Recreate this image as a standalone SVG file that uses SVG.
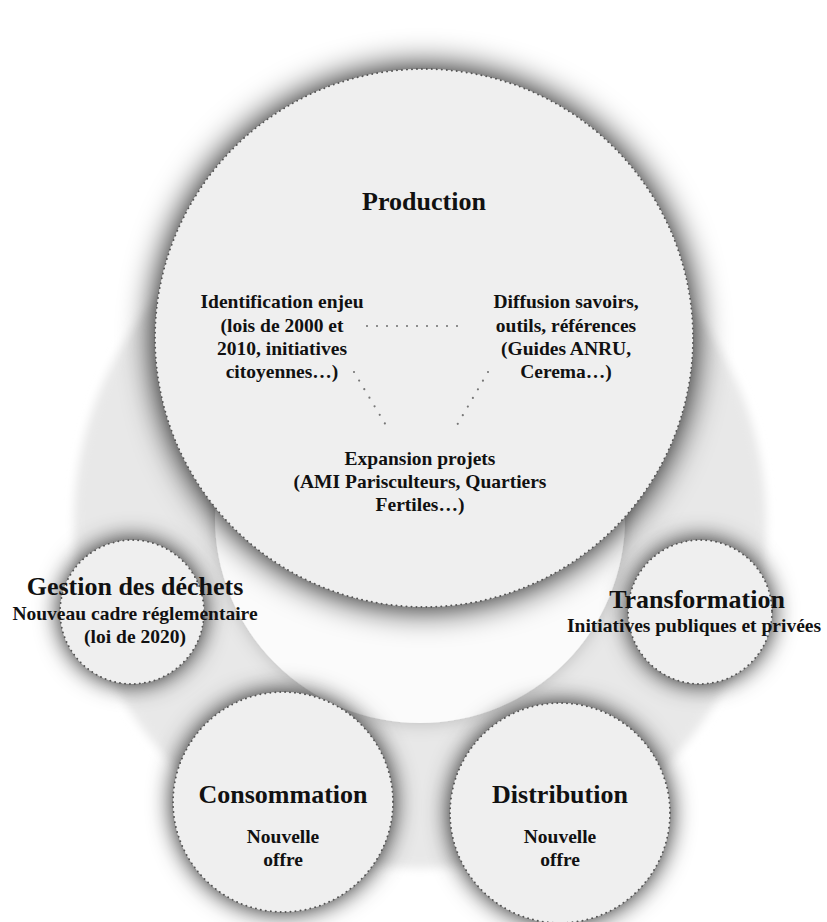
<svg xmlns="http://www.w3.org/2000/svg" width="827" height="922" viewBox="0 0 827 922">
<defs>
<filter id="soft" x="-10%" y="-10%" width="120%" height="120%">
<feGaussianBlur stdDeviation="5"/>
</filter>
<filter id="hole" x="-20%" y="-20%" width="140%" height="140%">
<feGaussianBlur in="SourceAlpha" stdDeviation="9" result="b"/>
<feFlood flood-color="#000" flood-opacity="0.2"/>
<feComposite in2="b" operator="in" result="s"/>
<feMerge><feMergeNode in="s"/><feMergeNode in="SourceGraphic"/></feMerge>
</filter>
<filter id="shBig" x="-30%" y="-30%" width="160%" height="160%">
<feGaussianBlur in="SourceAlpha" stdDeviation="17" result="b"/>
<feFlood flood-color="#000" flood-opacity="1"/>
<feComposite in2="b" operator="in" result="s"/>
<feMerge><feMergeNode in="s"/><feMergeNode in="SourceGraphic"/></feMerge>
</filter>
<filter id="sh" x="-40%" y="-40%" width="180%" height="180%">
<feGaussianBlur in="SourceAlpha" stdDeviation="12" result="b"/>
<feFlood flood-color="#000" flood-opacity="0.9"/>
<feComposite in2="b" operator="in" result="s"/>
<feMerge><feMergeNode in="s"/><feMergeNode in="SourceGraphic"/></feMerge>
</filter>
<style>
.node{fill:#efefef;stroke:#555;stroke-width:2;stroke-dasharray:0 5;stroke-linecap:round}
text{font-family:"Liberation Serif","Times New Roman",serif;font-weight:bold;fill:#111;text-anchor:middle}
.t{font-size:26px}
.b{font-size:19.5px}
.link{stroke:#777;stroke-width:2.2;stroke-dasharray:0 10;stroke-linecap:round;fill:none}
</style>
</defs>
<rect width="827" height="922" fill="#fff"/>
<g id="background-ring">
<circle cx="420" cy="522" r="346" fill="#e8e8e8" filter="url(#soft)"/>
<circle cx="420" cy="518" r="205" fill="#fbfbfb" filter="url(#hole)"/>
</g>
<g id="node-production">
<circle class="node" cx="424" cy="338" r="269" filter="url(#shBig)"/>
<text class="t" x="424" y="210">Production</text>
<text class="b" x="282" y="308">Identification enjeu</text>
<text class="b" x="282" y="332">(lois de 2000 et</text>
<text class="b" x="282" y="355">2010, initiatives</text>
<text class="b" x="282" y="378">citoyennes…)</text>
<text class="b" x="566" y="308">Diffusion savoirs,</text>
<text class="b" x="566" y="332">outils, références</text>
<text class="b" x="566" y="355">(Guides ANRU,</text>
<text class="b" x="566" y="378">Cerema…)</text>
<text class="b" x="420" y="465">Expansion projets</text>
<text class="b" x="420" y="488">(AMI Parisculteurs, Quartiers</text>
<text class="b" x="420" y="511">Fertiles…)</text>
</g>
<g id="connectors">
<path class="link" d="M367 326 L467 326"/>
<path class="link" d="M354 372 L390 432"/>
<path class="link" d="M488 372 L453 432"/>
</g>
<g id="node-gestion">
<circle class="node" cx="132" cy="612" r="72" filter="url(#sh)"/>
<text class="t" x="135" y="595">Gestion des déchets</text>
<text class="b" x="135" y="620">Nouveau cadre réglementaire</text>
<text class="b" x="135" y="643">(loi de 2020)</text>
</g>
<g id="node-transformation">
<circle class="node" cx="700" cy="612" r="72" filter="url(#sh)"/>
<text class="t" x="697" y="608">Transformation</text>
<text class="b" x="694" y="632">Initiatives publiques et privées</text>
</g>
<g id="node-consommation">
<circle class="node" cx="283" cy="802" r="110" filter="url(#sh)"/>
<text class="t" x="283" y="803">Consommation</text>
<text class="b" x="283" y="843">Nouvelle</text>
<text class="b" x="283" y="866">offre</text>
</g>
<g id="node-distribution">
<circle class="node" cx="560" cy="813" r="110" filter="url(#sh)"/>
<text class="t" x="560" y="803">Distribution</text>
<text class="b" x="560" y="843">Nouvelle</text>
<text class="b" x="560" y="866">offre</text>
</g>
</svg>
